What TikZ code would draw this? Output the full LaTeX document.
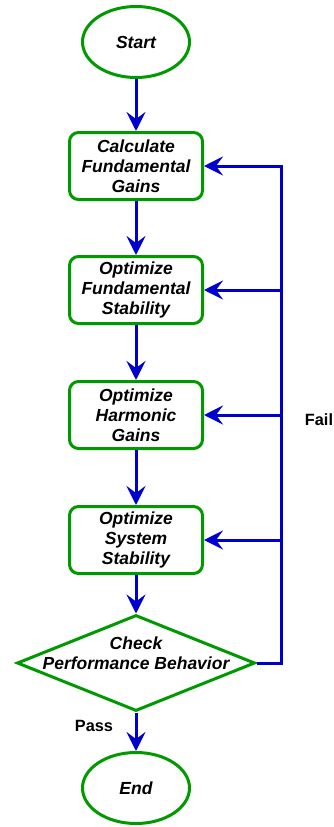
\documentclass[tikz,border=0pt]{standalone}
\usepackage{fontspec}
\setmainfont{Liberation Sans}
\usetikzlibrary{shapes.geometric,arrows.meta}
\definecolor{flowgreen}{HTML}{009900}
\definecolor{flowblue}{HTML}{0000CC}
\tikzset{
  term/.style={ellipse, draw=flowgreen, line width=3pt, fill=white,
    minimum width=107pt, minimum height=71pt, inner sep=0pt,
    font=\fontsize{17.5}{20}\selectfont\bfseries\itshape},
  proc/.style={rectangle, rounded corners=9pt, draw=flowgreen, line width=3pt, fill=white,
    minimum width=133pt, minimum height=67pt, inner sep=0pt, align=center,
    font=\fontsize{17.5}{20}\selectfont\bfseries\itshape},
  decide/.style={diamond, draw=flowgreen, line width=3pt, fill=white,
    minimum width=238pt, minimum height=96pt, inner sep=0pt},
  flow/.style={draw=flowblue, line width=3pt,
    -{Stealth[length=19pt,width=19pt,inset=7pt]}},
  tag/.style={font=\fontsize{16.3}{19}\selectfont\bfseries}
}

\begin{document}
\begin{tikzpicture}[x=1pt,y=-1pt]
  \useasboundingbox (0,0) rectangle (334,827);

  % main column
  \node[term] (start) at (136,42) {Start};
  \node[proc] (calc) at (136,166) {Calculate\\Fundamental\\Gains};
  \node[proc] (optfs) at (136,290) {Optimize\\Fundamental\\Stability};
  \node[proc] (opthg) at (136,415) {Optimize\\Harmonic\\Gains};
  \node[proc] (optss) at (136,540) {Optimize\\System\\Stability};
  \node[decide, label={[align=center, font=\fontsize{17.5}{20}\selectfont\bfseries\itshape,
      yshift=10pt]center:Check\\Performance Behavior}] (check) at (136,663) {};
  \node[term] (stop) at (136,788) {End};

  \draw[flow] (start) -- (calc);
  \draw[flow] (calc) -- (optfs);
  \draw[flow] (optfs) -- (opthg);
  \draw[flow] (opthg) -- (optss);
  \draw[flow] (optss) -- (check);
  \draw[flow] (check) -- (stop);

  % fail loop
  \coordinate (back) at (281,663);
  \draw[flow] (check.east) -- (back) |- (calc.east);
  \draw[flow] (back) |- (optfs.east);
  \draw[flow] (back) |- (opthg.east);
  \draw[flow] (back) |- (optss.east);

  \node[tag] (fail) at (319,420) {Fail};
  \node[tag] (pass) at (94,726) {Pass};
\end{tikzpicture}
\end{document}
